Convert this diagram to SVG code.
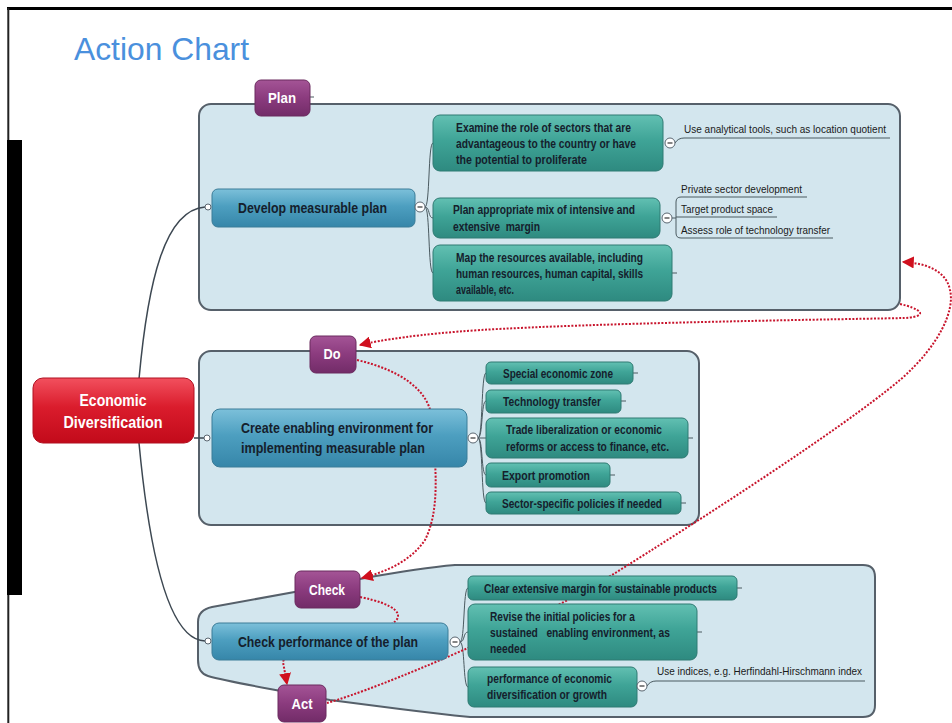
<svg xmlns="http://www.w3.org/2000/svg" width="952" height="723" viewBox="0 0 952 723">
<defs>
<linearGradient id="gBlue" x1="0" y1="0" x2="0" y2="1"><stop offset="0" stop-color="#7cc0da"/><stop offset="0.45" stop-color="#4d9fc0"/><stop offset="1" stop-color="#3686a9"/></linearGradient>
<linearGradient id="gTeal" x1="0" y1="0" x2="0" y2="1"><stop offset="0" stop-color="#62c0b2"/><stop offset="0.45" stop-color="#3fa497"/><stop offset="1" stop-color="#2e8a80"/></linearGradient>
<linearGradient id="gPurple" x1="0" y1="0" x2="0" y2="1"><stop offset="0" stop-color="#a45496"/><stop offset="0.5" stop-color="#8b3b7e"/><stop offset="1" stop-color="#722c68"/></linearGradient>
<linearGradient id="gRed" x1="0" y1="0" x2="0" y2="1"><stop offset="0" stop-color="#f2505e"/><stop offset="0.45" stop-color="#da1c2c"/><stop offset="1" stop-color="#c20a1a"/></linearGradient>
<marker id="arr" viewBox="0 0 10 10" refX="9" refY="5" markerWidth="12" markerHeight="12" markerUnits="userSpaceOnUse" orient="auto"><path d="M0,0 L10,5 L0,10 z" fill="#d0101e"/></marker>
</defs>
<style>
.panel{fill:#d3e6ee;stroke:#56606a;stroke-width:2}
.blue{fill:url(#gBlue);stroke:#3b7c98;stroke-width:1}
.teal{fill:url(#gTeal);stroke:#2e7a72;stroke-width:1}
.tag{fill:url(#gPurple);stroke:#6a2a5e;stroke-width:1}
.root{fill:url(#gRed);stroke:#b01020;stroke-width:1}
.t{font-family:"Liberation Sans",Arial,sans-serif;fill:#15202c;font-weight:bold}
.f11{font-size:12.5px}
.f14{font-size:15px}
.ann{font-family:"Liberation Sans",Arial,sans-serif;font-size:11px;fill:#1a1a1a}
.wt{fill:#ffffff}
.link{fill:none;stroke:#3d4852;stroke-width:1.5}
.dot{fill:none;stroke:#c8142c;stroke-width:2;stroke-dasharray:2 1.6}
.br{fill:none;stroke:#4a5a60;stroke-width:1}
.knob{fill:#ffffff;stroke:#5a6670;stroke-width:1}
.minus{fill:none;stroke:#333;stroke-width:1.2}
</style>
<rect width="952" height="723" fill="#ffffff"/>
<g id="frame">
<line x1="7" y1="8.5" x2="952" y2="8.5" stroke="#000" stroke-width="3"/>
<line x1="8.3" y1="8" x2="8.3" y2="723" stroke="#222" stroke-width="2"/>
<rect x="7" y="140" width="15" height="455" fill="#000"/>
</g>
<text id="title" x="74" y="60" font-family="Liberation Sans, Arial, sans-serif" font-size="32" fill="#4a90dd" textLength="175" lengthAdjust="spacingAndGlyphs">Action Chart</text>

<g id="panels">
<rect id="plan-panel" class="panel" x="199" y="104" width="701" height="206" rx="12"/>
<rect id="do-panel" class="panel" x="199" y="351" width="500" height="174" rx="12"/>
<path id="check-panel" class="panel" d="M198,622 Q198,610 212,607 L300,591 L365,578 Q420,568 455,565 L863,565 Q875,565 875,577 L875,705 Q875,717 863,717 L470,717 Q440,714 400,709 L330,700 L270,689 Q222,680 208,676 Q198,673 198,660 Z"/>
</g>

<g id="connectors">
<path class="link" d="M139,379 C148,280 165,210 205,207"/>
<path class="link" d="M194,438 L204,438"/>
<path class="link" d="M139,443 C150,560 170,640 205,641"/>
<path class="br" d="M425,207 C430,207 428,143 433,143"/>
<path class="br" d="M425,207 C430,207 428,218 433,218"/>
<path class="br" d="M425,207 C430,207 428,273 433,273"/>
<path class="br" d="M675,143 Q678,138 684,138 L890,138"/>
<path class="br" d="M672,218 L676,218 M681,197 Q676,197 676,202 L676,233 Q676,238 681,238 L833,238 M681,197 L807,197 M676,217 L777,217"/>
<path class="br" d="M672,273 L677,273"/>
<path class="br" d="M478,438 C483,438 481,373 486,373"/>
<path class="br" d="M478,438 C483,438 481,401 486,401"/>
<path class="br" d="M478,438 L486,438"/>
<path class="br" d="M478,438 C483,438 481,475 486,475"/>
<path class="br" d="M478,438 C483,438 481,503 486,503"/>
<path class="br" d="M633,373 L638,373 M621,401 L626,401 M688,438 L693,438 M610,475 L615,475 M681,503 L686,503"/>
<path class="br" d="M460,642 C465,642 463,588 468,588"/>
<path class="br" d="M460,642 C465,642 463,632 468,632"/>
<path class="br" d="M460,642 C465,642 463,687 468,687"/>
<path class="br" d="M737,588 L742,588 M697,632 L702,632"/>
<path class="br" d="M647,686 Q650,681 656,681 L865,681"/>
<path class="br" d="M310,97 L314,97"/>
<path class="dot" d="M900,304 C918,308 932,316 905,318 C800,320 600,323 480,330 C420,334 380,340 360,345" marker-end="url(#arr)"/>
<path class="dot" d="M357,360 C400,370 430,390 432,420 C436,470 440,510 425,540 C410,562 385,572 362,578" marker-end="url(#arr)"/>
<path class="dot" d="M360,597 C395,604 408,615 390,625 C340,640 285,650 283,662 L287,684" marker-end="url(#arr)"/>
<path class="dot" d="M327,703 C380,688 530,625 612,575 C700,520 840,430 900,380 C940,345 955,310 950,290 C946,270 925,263 903,262" marker-end="url(#arr)"/>
</g>

<g id="plan-tag"><rect class="tag" x="255" y="80" width="55" height="36" rx="6"/><text class="t f14 wt" x="282" y="103" text-anchor="middle" textLength="28" lengthAdjust="spacingAndGlyphs">Plan</text></g>
<g id="develop"><rect class="blue" x="212" y="189" width="203" height="38" rx="6"/><text class="t f14" x="238" y="213" textLength="149" lengthAdjust="spacingAndGlyphs">Develop measurable plan</text>
<circle class="knob" cx="208" cy="207" r="3"/><circle class="knob" cx="420" cy="207" r="5"/><line class="minus" x1="417.5" y1="207" x2="422.5" y2="207"/></g>
<g id="examine"><rect class="teal" x="433" y="115" width="230" height="56" rx="7"/>
<text class="t f11" x="456" y="132" textLength="175" lengthAdjust="spacingAndGlyphs">Examine the role of sectors that are</text>
<text class="t f11" x="456" y="148" textLength="180" lengthAdjust="spacingAndGlyphs">advantageous to the country or have</text>
<text class="t f11" x="456" y="164" textLength="131" lengthAdjust="spacingAndGlyphs">the potential to proliferate</text>
<circle class="knob" cx="670" cy="143" r="5"/><line class="minus" x1="667.5" y1="143" x2="672.5" y2="143"/></g>
<g id="plan-mix"><rect class="teal" x="433" y="198" width="227" height="40" rx="7"/>
<text class="t f11" x="453" y="214" textLength="182" lengthAdjust="spacingAndGlyphs">Plan appropriate mix of intensive and</text>
<text class="t f11" x="453" y="231" textLength="87" lengthAdjust="spacingAndGlyphs" xml:space="preserve">extensive  margin</text>
<circle class="knob" cx="667" cy="218" r="5"/><line class="minus" x1="664.5" y1="218" x2="669.5" y2="218"/></g>
<g id="map-resources"><rect class="teal" x="433" y="245" width="239" height="56" rx="7"/>
<text class="t f11" x="456" y="262" textLength="187" lengthAdjust="spacingAndGlyphs">Map the resources available, including</text>
<text class="t f11" x="456" y="278" textLength="187" lengthAdjust="spacingAndGlyphs">human resources, human capital, skills</text>
<text class="t f11" x="456" y="294" textLength="58" lengthAdjust="spacingAndGlyphs">available, etc.</text></g>
<g id="ann-plan">
<text class="ann" x="684" y="133" textLength="202" lengthAdjust="spacingAndGlyphs">Use analytical tools, such as location quotient</text>
<text class="ann" x="681" y="193" textLength="121" lengthAdjust="spacingAndGlyphs">Private sector development</text>
<text class="ann" x="681" y="213" textLength="92" lengthAdjust="spacingAndGlyphs">Target product space</text>
<text class="ann" x="681" y="234" textLength="149" lengthAdjust="spacingAndGlyphs">Assess role of technology transfer</text></g>

<g id="root"><rect class="root" x="33" y="378" width="161" height="65" rx="10"/>
<text class="t wt" font-size="16" x="113" y="406" text-anchor="middle" textLength="67" lengthAdjust="spacingAndGlyphs">Economic</text>
<text class="t wt" font-size="16" x="113" y="428" text-anchor="middle" textLength="99" lengthAdjust="spacingAndGlyphs">Diversification</text></g>

<g id="do-tag"><rect class="tag" x="310" y="336" width="46" height="37" rx="6"/><text class="t f14 wt" x="332" y="359" text-anchor="middle" textLength="17" lengthAdjust="spacingAndGlyphs">Do</text></g>
<g id="create-env"><rect class="blue" x="212" y="409" width="255" height="58" rx="8"/>
<text class="t f14" x="241" y="433" textLength="192" lengthAdjust="spacingAndGlyphs">Create enabling environment for</text>
<text class="t f14" x="241" y="453" textLength="184" lengthAdjust="spacingAndGlyphs">implementing measurable plan</text>
<circle class="knob" cx="207" cy="438" r="3"/><circle class="knob" cx="473" cy="438" r="5"/><line class="minus" x1="470.5" y1="438" x2="475.5" y2="438"/></g>
<g id="sez"><rect class="teal" x="486" y="362" width="147" height="22" rx="5"/><text class="t f11" x="503" y="378" textLength="110" lengthAdjust="spacingAndGlyphs">Special economic zone</text></g>
<g id="tech"><rect class="teal" x="486" y="390" width="135" height="23" rx="5"/><text class="t f11" x="503" y="406" textLength="98" lengthAdjust="spacingAndGlyphs">Technology transfer</text></g>
<g id="trade"><rect class="teal" x="486" y="418" width="202" height="40" rx="6"/>
<text class="t f11" x="506" y="434" textLength="156" lengthAdjust="spacingAndGlyphs">Trade liberalization or economic</text>
<text class="t f11" x="506" y="451" textLength="163" lengthAdjust="spacingAndGlyphs">reforms or access to finance, etc.</text></g>
<g id="export"><rect class="teal" x="486" y="463" width="124" height="24" rx="5"/><text class="t f11" x="502" y="480" textLength="88" lengthAdjust="spacingAndGlyphs">Export promotion</text></g>
<g id="sector"><rect class="teal" x="486" y="492" width="195" height="22" rx="5"/><text class="t f11" x="502" y="508" textLength="160" lengthAdjust="spacingAndGlyphs">Sector-specific policies if needed</text></g>

<g id="check-tag"><rect class="tag" x="295" y="571" width="65" height="37" rx="6"/><text class="t f14 wt" x="327" y="595" text-anchor="middle" textLength="36" lengthAdjust="spacingAndGlyphs">Check</text></g>
<g id="act-tag"><rect class="tag" x="278" y="685" width="48" height="37" rx="6"/><text class="t f14 wt" x="302" y="709" text-anchor="middle" textLength="21" lengthAdjust="spacingAndGlyphs">Act</text></g>
<g id="check-perf"><rect class="blue" x="212" y="623" width="236" height="37" rx="7"/>
<text class="t f14" x="238" y="647" textLength="180" lengthAdjust="spacingAndGlyphs">Check performance of the plan</text>
<circle class="knob" cx="208" cy="641" r="3"/><circle class="knob" cx="455" cy="642" r="5"/><line class="minus" x1="452.5" y1="642" x2="457.5" y2="642"/></g>
<g id="clear"><rect class="teal" x="468" y="576" width="269" height="24" rx="5"/><text class="t f11" x="484" y="593" textLength="233" lengthAdjust="spacingAndGlyphs">Clear extensive margin for sustainable products</text></g>
<g id="revise"><rect class="teal" x="468" y="604" width="229" height="56" rx="7"/>
<text class="t f11" x="490" y="621" textLength="145" lengthAdjust="spacingAndGlyphs">Revise the initial policies for a</text>
<text class="t f11" x="490" y="637" textLength="180" lengthAdjust="spacingAndGlyphs" xml:space="preserve">sustained   enabling environment, as</text>
<text class="t f11" x="490" y="653" textLength="36" lengthAdjust="spacingAndGlyphs">needed</text></g>
<g id="perf"><rect class="teal" x="468" y="667" width="169" height="40" rx="6"/>
<text class="t f11" x="487" y="683" textLength="125" lengthAdjust="spacingAndGlyphs">performance of economic</text>
<text class="t f11" x="487" y="699" textLength="120" lengthAdjust="spacingAndGlyphs">diversification or growth</text>
<circle class="knob" cx="642" cy="686" r="5"/><line class="minus" x1="639.5" y1="686" x2="644.5" y2="686"/></g>
<g id="ann-check"><text class="ann" x="657" y="675" textLength="205" lengthAdjust="spacingAndGlyphs">Use indices, e.g. Herfindahl-Hirschmann index</text></g>
</svg>
